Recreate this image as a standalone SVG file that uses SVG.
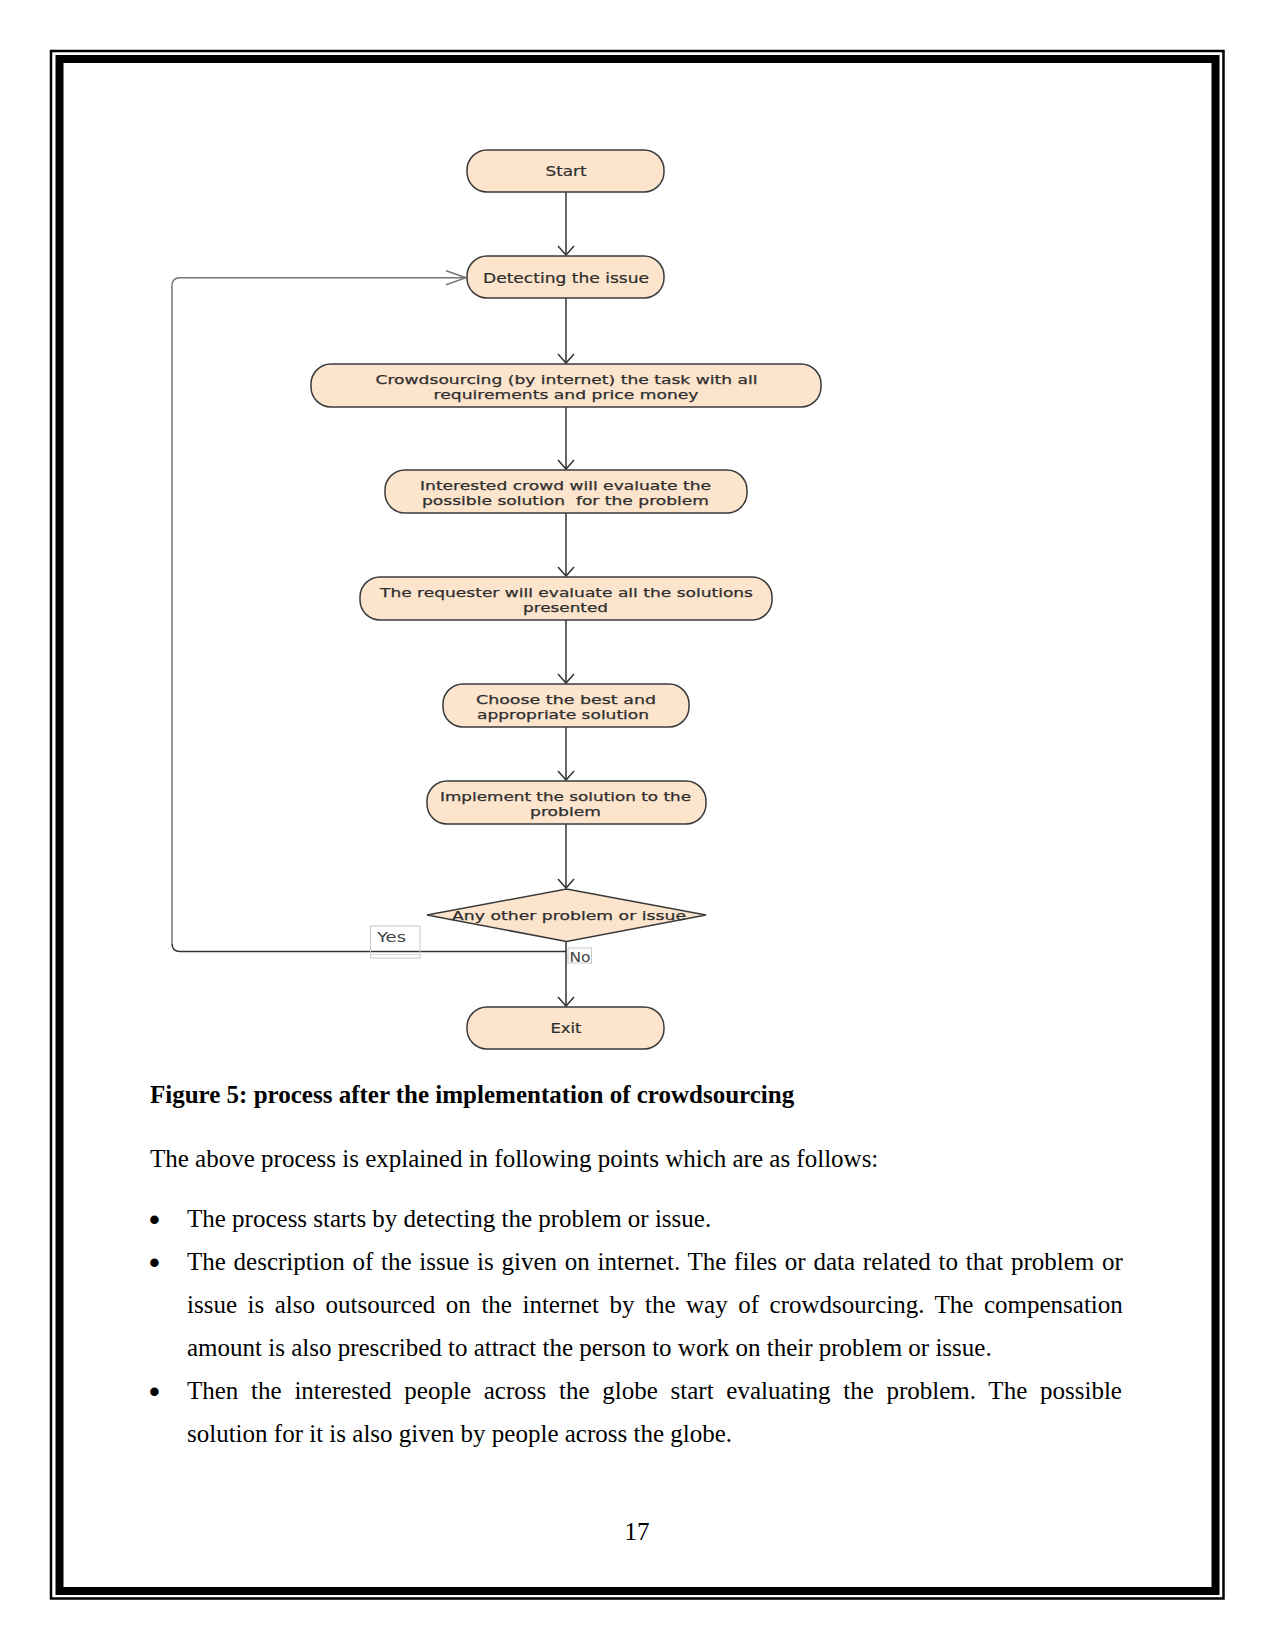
<svg xmlns="http://www.w3.org/2000/svg" width="1275" height="1650" viewBox="0 0 1275 1650">
<defs>
<style>
.box{fill:#fce4cd;stroke:#3a3a3a;stroke-width:1.5}
.lbl{font-family:"DejaVu Sans",sans-serif;font-size:14.5px;fill:#2e2e2e;text-anchor:middle;stroke:#2e2e2e;stroke-width:0.2}
.lbl2{font-family:"DejaVu Sans",sans-serif;font-size:12.8px;fill:#2e2e2e;text-anchor:middle;stroke:#2e2e2e;stroke-width:0.25}
.tag{font-family:"DejaVu Sans",sans-serif;font-size:14.5px;fill:#444;text-anchor:middle}
.flow{fill:none;stroke:#333;stroke-width:1.5}
.loop{fill:none;stroke:#777;stroke-width:1.5}
.body{font-family:"Liberation Serif",serif;font-size:25px;fill:#000}
.bul{font-family:"Liberation Sans",sans-serif;font-size:31px;fill:#000}
</style>
<marker id="arr" viewBox="0 0 20 20" refX="10" refY="10" markerWidth="20" markerHeight="20" markerUnits="userSpaceOnUse" orient="auto">
<path d="M1,2 L10,10 L1,18" fill="none" stroke="#333" stroke-width="1.5"/>
</marker>
<marker id="arrg" viewBox="0 0 24 20" refX="22" refY="10" markerWidth="24" markerHeight="20" markerUnits="userSpaceOnUse" orient="auto">
<path d="M2,3 L22,10 L2,17" fill="none" stroke="#777" stroke-width="1.5"/>
</marker>
</defs>
<rect width="1275" height="1650" fill="#fff"/>
<!-- page border -->
<rect x="51" y="51" width="1172.5" height="1547.5" fill="none" stroke="#000" stroke-width="2.5"/>
<rect x="59.5" y="59" width="1156" height="1532" fill="none" stroke="#000" stroke-width="8"/>

<g id="connectors">
<line class="flow" x1="566" y1="192" x2="566" y2="255" marker-end="url(#arr)"/>
<line class="flow" x1="566" y1="298" x2="566" y2="363" marker-end="url(#arr)"/>
<line class="flow" x1="566" y1="407" x2="566" y2="469" marker-end="url(#arr)"/>
<line class="flow" x1="566" y1="513" x2="566" y2="576" marker-end="url(#arr)"/>
<line class="flow" x1="566" y1="620" x2="566" y2="683" marker-end="url(#arr)"/>
<line class="flow" x1="566" y1="727" x2="566" y2="780" marker-end="url(#arr)"/>
<line class="flow" x1="566" y1="824" x2="566" y2="888" marker-end="url(#arr)"/>
<line class="flow" x1="566" y1="941" x2="566" y2="1006" marker-end="url(#arr)"/>
<path class="flow" d="M566,951.5 L180,951.5 Q172,951.5 172,943.5"/>
<path class="loop" d="M172,943.5 L172,285.7 Q172,277.7 180,277.7 L466,277.7" marker-end="url(#arrg)"/>
</g>

<g id="start">
<rect class="box" x="467" y="150" width="197" height="42" rx="20"/>
<text class="lbl" x="566" y="176" textLength="41" lengthAdjust="spacingAndGlyphs">Start</text>
</g>
<g id="detect">
<rect class="box" x="467" y="256" width="197" height="42" rx="20"/>
<text class="lbl" x="566" y="283" textLength="166" lengthAdjust="spacingAndGlyphs">Detecting the issue</text>
</g>
<g id="crowdsource">
<rect class="box" x="311" y="364" width="510" height="43" rx="20"/>
<text class="lbl2" x="566.5" y="384" textLength="382" lengthAdjust="spacingAndGlyphs">Crowdsourcing (by internet) the task with all</text>
<text class="lbl2" x="566" y="399.2" textLength="265" lengthAdjust="spacingAndGlyphs">requirements and price money</text>
</g>
<g id="interested">
<rect class="box" x="385" y="470" width="362" height="43" rx="20"/>
<text class="lbl2" x="565.5" y="490" textLength="291" lengthAdjust="spacingAndGlyphs">Interested crowd will evaluate the</text>
<text class="lbl2" x="565.5" y="505.2" textLength="287" lengthAdjust="spacingAndGlyphs" xml:space="preserve">possible solution  for the problem</text>
</g>
<g id="requester">
<rect class="box" x="360" y="577" width="412" height="43" rx="20"/>
<text class="lbl2" x="566.5" y="597" textLength="373" lengthAdjust="spacingAndGlyphs">The requester will evaluate all the solutions</text>
<text class="lbl2" x="565.5" y="612.2" textLength="85" lengthAdjust="spacingAndGlyphs">presented</text>
</g>
<g id="choose">
<rect class="box" x="443" y="684" width="246" height="43" rx="20"/>
<text class="lbl2" x="566" y="704" textLength="180" lengthAdjust="spacingAndGlyphs">Choose the best and</text>
<text class="lbl2" x="563" y="719.2" textLength="172" lengthAdjust="spacingAndGlyphs">appropriate solution</text>
</g>
<g id="implement">
<rect class="box" x="427" y="781" width="279" height="43" rx="20"/>
<text class="lbl2" x="565.5" y="801" textLength="251" lengthAdjust="spacingAndGlyphs">Implement the solution to the</text>
<text class="lbl2" x="565.5" y="816.2" textLength="71" lengthAdjust="spacingAndGlyphs">problem</text>
</g>
<g id="decision">
<polygon class="box" points="566.5,889 706,915 566.5,941.5 427,915"/>
<text class="lbl2" x="569" y="920" textLength="234" lengthAdjust="spacingAndGlyphs">Any other problem or issue</text>
</g>
<g id="yes-label">
<rect x="370.5" y="926" width="49.5" height="32" fill="none" stroke="#c8c8c8" stroke-width="1"/>
<line x1="370.5" y1="954.5" x2="420" y2="954.5" stroke="#ddd" stroke-width="1"/>
<text class="tag" x="391.5" y="942" textLength="29" lengthAdjust="spacingAndGlyphs">Yes</text>
</g>
<g id="no-label">
<rect x="568" y="948" width="23.5" height="15" fill="#fff" stroke="#c8c8c8" stroke-width="1"/>
<text class="tag" x="580" y="961.5" textLength="21" lengthAdjust="spacingAndGlyphs">No</text>
</g>
<g id="exit">
<rect class="box" x="467" y="1007" width="197" height="42" rx="20"/>
<text class="lbl" x="566" y="1033" textLength="31" lengthAdjust="spacingAndGlyphs">Exit</text>
</g>

<g id="text">
<text class="body" x="150" y="1103" font-weight="bold">Figure 5: process after the implementation of crowdsourcing</text>
<text class="body" x="150" y="1167">The above process is explained in following points which are as follows:</text>
<text class="bul" x="149" y="1230">•</text>
<text class="body" x="187" y="1227">The process starts by detecting the problem or issue.</text>
<text class="bul" x="149" y="1273">•</text>
<text class="body" x="187" y="1270" word-spacing="1.5">The description of the issue is given on internet. The files or data related to that problem or</text>
<text class="body" x="187" y="1313" word-spacing="4.3">issue is also outsourced on the internet by the way of crowdsourcing. The compensation</text>
<text class="body" x="187" y="1356">amount is also prescribed to attract the person to work on their problem or issue.</text>
<text class="bul" x="149" y="1402">•</text>
<text class="body" x="187" y="1399" word-spacing="6.5">Then the interested people across the globe start evaluating the problem. The possible</text>
<text class="body" x="187" y="1442">solution for it is also given by people across the globe.</text>
<text class="body" x="637" y="1540" text-anchor="middle">17</text>
</g>
</svg>
